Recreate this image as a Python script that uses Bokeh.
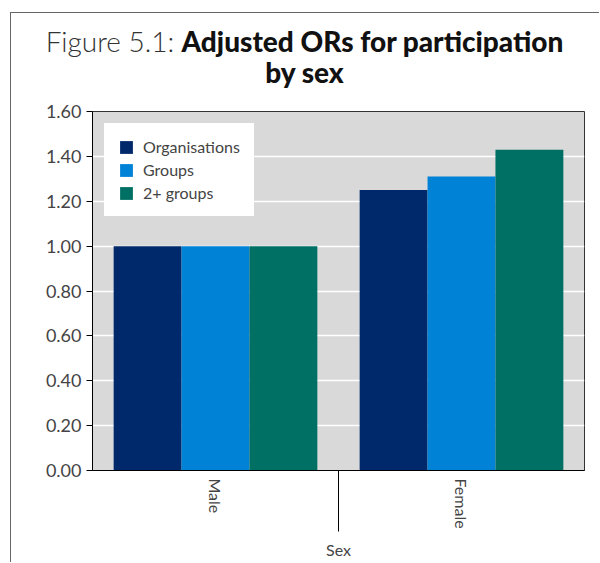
from bokeh.plotting import figure
from bokeh.models import (Range1d, FixedTicker, NumeralTickFormatter, ColumnDataSource, Div)
from bokeh.layouts import column
from bokeh.embed import file_html
from bokeh.resources import INLINE

categories = ["Male", "Female"]
series_names = ["Organisations", "Groups", "2+ groups"]
organisations = [1.00, 1.25]
groups = [1.00, 1.31]
two_plus_groups = [1.00, 1.43]
y_ticks = [0.0, 0.2, 0.4, 0.6, 0.8, 1.0, 1.2, 1.4, 1.6]
colors = ["#00296b", "#0082d6", "#007064"]

FONT = "Lato"
bw = 0.276

centers = [i + 0.5 for i in range(len(categories))]
boundaries = [float(i) for i in range(1, len(categories))]

p = figure(x_range=Range1d(0, len(categories)), y_range=Range1d(0, 1.6),
           width=588, height=461, output_backend="svg", toolbar_location=None,
           min_border_left=81, min_border_right=15, min_border_top=10,
           min_border_bottom=92, margin=0)

p.background_fill_color = "#d9d9d9"
p.border_fill_color = "white"
p.outline_line_color = "#333333"
p.outline_line_width = 1

for vals, off, colr, name in zip([organisations, groups, two_plus_groups], [-bw, 0, bw],
                                 colors, series_names):
    src = ColumnDataSource(dict(x=[c + off for c in centers], top=vals))
    p.vbar(x="x", top="top", width=bw, source=src, fill_color=colr, line_color=None,
           legend_label=name)

# y axis
p.yaxis.ticker = FixedTicker(ticks=y_ticks)
p.yaxis.formatter = NumeralTickFormatter(format="0.00")
p.yaxis.major_tick_out = 6
p.yaxis.major_tick_in = 0
p.yaxis.minor_tick_line_color = None
p.yaxis.axis_line_color = "black"
p.yaxis.major_tick_line_color = "black"
p.yaxis.major_label_text_font = FONT
p.yaxis.major_label_text_font_size = "18px"
p.yaxis.major_label_text_color = "#444444"
p.yaxis.major_label_standoff = 5

# x axis
p.xaxis.ticker = FixedTicker(ticks=centers, minor_ticks=boundaries)
p.xaxis.major_label_overrides = {c: name for c, name in zip(centers, categories)}
p.xaxis.major_tick_line_color = None
p.xaxis.major_tick_out = 0
p.xaxis.major_tick_in = 0
p.xaxis.minor_tick_line_color = "black"
p.xaxis.minor_tick_out = 61
p.xaxis.minor_tick_in = 0
p.xaxis.axis_line_color = "black"
p.xaxis.major_label_orientation = "vertical"
p.xaxis.major_label_text_font = FONT
p.xaxis.major_label_text_font_size = "16px"
p.xaxis.major_label_text_color = "#444444"
p.xaxis.major_label_standoff = -53
p.xaxis.axis_label = "Sex"
p.xaxis.axis_label_text_font = FONT
p.xaxis.axis_label_text_font_size = "16px"
p.xaxis.axis_label_text_font_style = "normal"
p.xaxis.axis_label_text_color = "#444444"
p.xaxis.axis_label_standoff = 8

# grid
p.xgrid.grid_line_color = None
p.ygrid.grid_line_color = "white"
p.ygrid.grid_line_width = 1.5

# legend
lg = p.legend[0]
lg.location = "top_left"
lg.margin = 12
lg.padding = 13
lg.spacing = 4
lg.glyph_width = 16
lg.glyph_height = 16
lg.label_standoff = 9
lg.label_text_font = FONT
lg.label_text_font_size = "16px"
lg.label_text_color = "#444444"
lg.label_height = 16
lg.border_line_color = "white"
lg.border_line_width = 1
lg.background_fill_color = "white"
lg.background_fill_alpha = 1.0

title = Div(
    text='<div style="padding-top:13px">'
         '<span style="font-weight:300; color:#333333">Figure 5.1:</span> '
         '<span style="font-weight:900; color:#111111">Adjusted ORs for participation'
         '<br>by sex</span></div>',
    width=587, height=88, margin=0,
    styles={"font-family": FONT, "font-size": "28px", "line-height": "31px",
            "text-align": "center"})

layout = column(title, p, margin=(12, 0, 0, 10),
                styles={"border-left": "1.5px solid #666666",
                        "border-top": "1.5px solid #666666"})

open("out.html", "w").write(file_html(layout, INLINE))
